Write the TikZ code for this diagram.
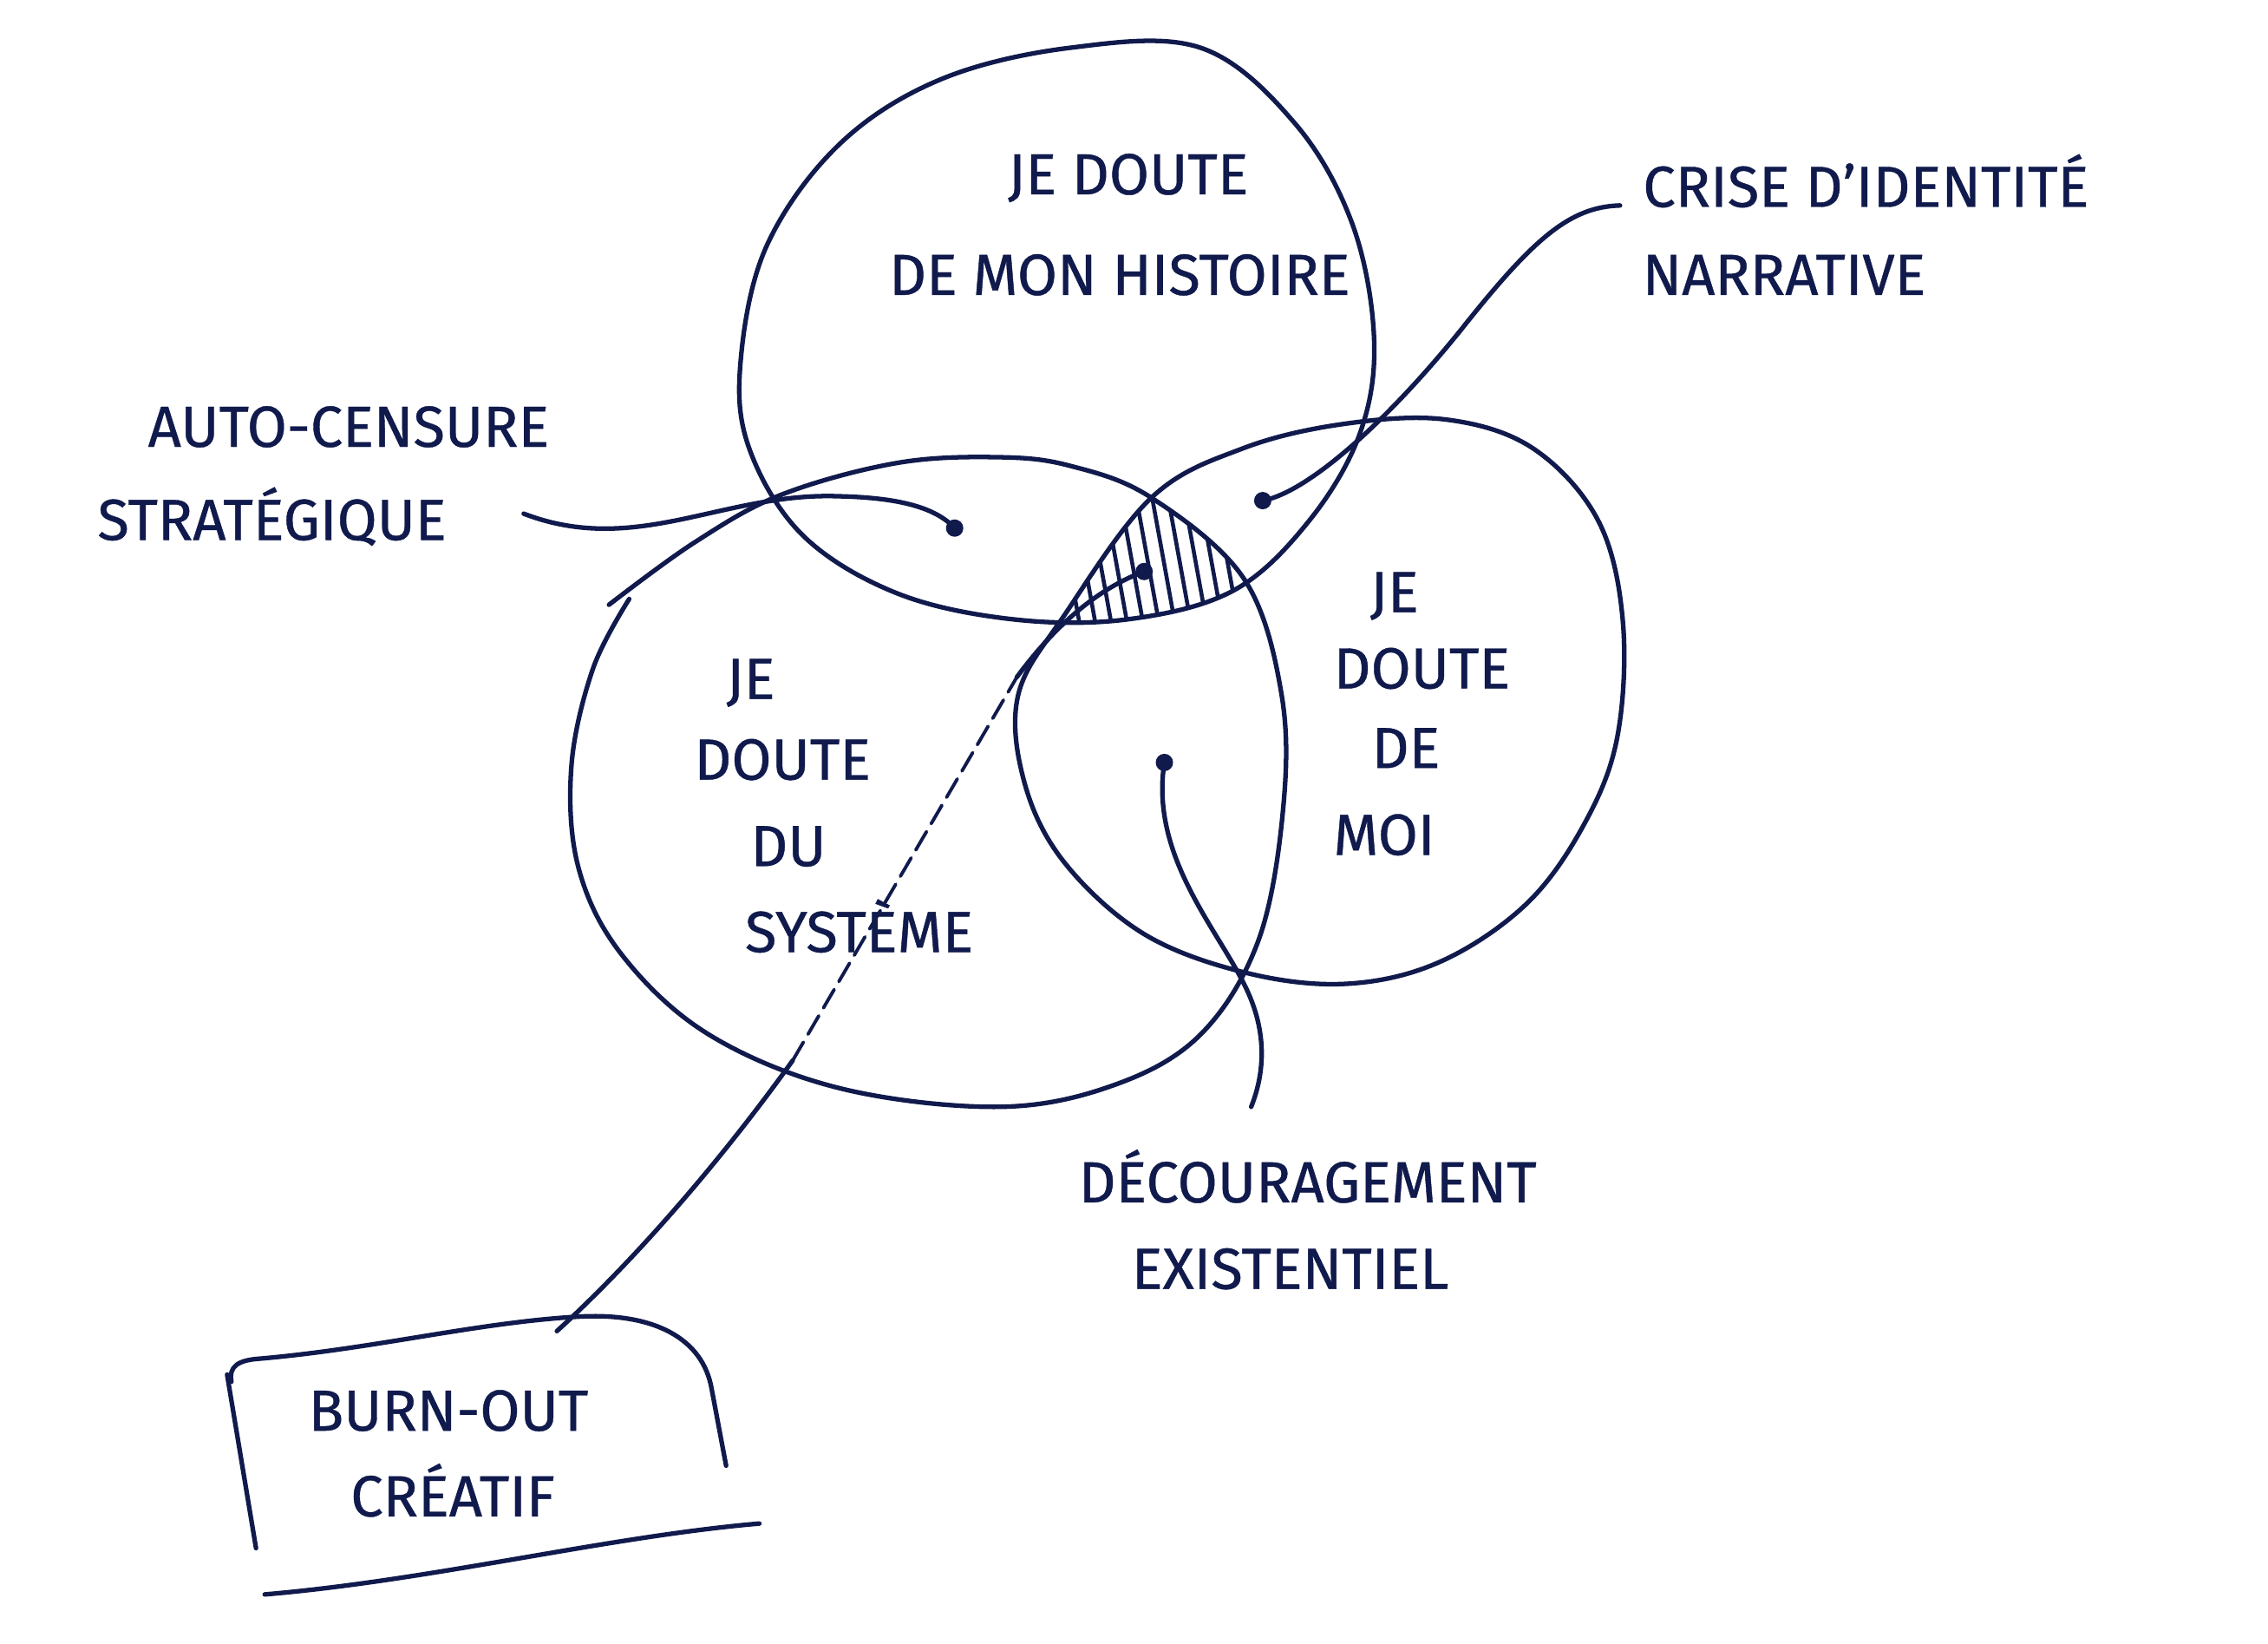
\documentclass[tikz,border=0pt]{standalone}
\usepackage{fontspec}
\setmainfont{Fira Sans}
\newfontfamily\handfont{Fira Sans}[FakeBold=0.6]
\definecolor{ink}{RGB}{16,26,76}
\begin{document}
\begin{tikzpicture}[x=0.016677cm,y=-0.016677cm,
  pen/.style={draw=ink,line width=1.5pt,line cap=round,line join=round},
  hatchpen/.style={draw=ink,line width=1.3pt,line cap=round},
  lbl/.style={text=ink,font=\handfont\fontsize{19}{22}\selectfont,inner sep=0pt,align=center},
  dotm/.style={circle,fill=ink,inner sep=0pt,minimum size=0.2cm}]
\path[use as bounding box,fill=white] (0,0) rectangle (1568,1136);

\def\toppath{plot[smooth cycle,tension=0.6] coordinates {(830,33) (895,85) (935,155) (950,235) (940,300) (905,360) (853,408) (780,428) (700,428) (620,410) (555,370) (518,310) (512,250) (530,170) (580,100) (650,55) (740,33)}}
\def\leftpath{plot[smooth cycle,tension=0.6] coordinates {(428,416) (408,462) (395,530) (400,600) (430,660) (490,715) (580,752) (690,765) (770,750) (830,715) (870,650) (887,560) (886,480) (860,400) (796,344) (740,322) (690,316) (620,320) (540,342) (480,375)}}
\def\rightpath{plot[smooth cycle,tension=0.6] coordinates {(929,293) (1000,290) (1060,310) (1105,360) (1122,430) (1118,510) (1095,570) (1055,625) (995,665) (930,680) (860,672) (790,645) (735,595) (708,540) (704,480) (736,425) (796,344) (859,310)}}

% circles
\draw[pen] \toppath;
\draw[pen] plot[smooth,tension=0.6] coordinates {(435,414) (410,462) (395,530) (400,600) (430,660) (490,715) (580,752) (690,765) (770,750) (830,715) (870,650) (887,560) (886,480) (860,400) (796,344) (740,322) (690,316) (620,320) (540,342) (480,375) (421,418)};
\draw[pen] \rightpath;

% hatching of the triple intersection
\begin{scope}
  \clip \toppath;
  \clip \leftpath;
  \clip \rightpath;
  \foreach \x in {736,747,758,769,780,791,802,813,824,835,846,857}
    \draw[hatchpen] (\x-8,330) -- (\x+12,440);
\end{scope}

% texts in circles
\node[lbl] (t1) at (780,123) {JE DOUTE};
\node[lbl] (t2) at (774,190) {DE MON HISTOIRE};
\node[lbl] (l1) at (519,472) {JE};
\node[lbl] (l2) at (541,525) {DOUTE};
\node[lbl] (l3) at (545,585) {DU};
\node[lbl] (l4) at (594,640) {SYSTÈME};
\node[lbl] (r1) at (964,412) {JE};
\node[lbl] (r2) at (983,462) {DOUTE};
\node[lbl] (r3) at (972,517) {DE};
\node[lbl] (r4) at (957,577) {MOI};

% outside labels
\node[lbl] (a1) at (241,295) {AUTO-CENSURE};
\node[lbl] (a2) at (188,357) {STRATÉGIQUE};
\node[lbl] (c1) at (1290,125) {CRISE D’IDENTITÉ};
\node[lbl,anchor=west] (c2) at (1135,190) {NARRATIVE};
\node[lbl] (d1) at (904,813) {DÉCOURAGEMENT};
\node[lbl] (d2) at (892,877) {EXISTENTIEL};
\node[lbl] (b1) at (310,975) {BURN-OUT};
\node[lbl] (b2) at (313,1030) {CRÉATIF};

% dots
\node[dotm] (dA) at (660,365) {};
\node[dotm] (dC) at (873,346) {};
\node[dotm] (dD) at (805,527) {};
\node[dotm] (dB) at (791,395) {};

% connector ends
\coordinate (eA) at (362,355);
\coordinate (eC) at (1120,142);
\coordinate (eD) at (865,765);
\coordinate (eB) at (385,920);
\coordinate (bs) at (548,733);
\coordinate (be) at (703,468);

% connectors
\draw[pen] (eA) .. controls (440,385) and (500,340) .. (580,343) .. controls (625,344) and (648,352) .. (dA.center);
\draw[pen] (dC.center) .. controls (905,340) and (960,290) .. (1010,228) .. controls (1060,165) and (1085,143) .. (eC);
\draw[pen] (dD.center) .. controls (795,590) and (840,640) .. (860,680) .. controls (878,715) and (873,745) .. (eD);
\draw[pen] (eB) .. controls (440,870) and (500,800) .. (bs);
\draw[pen,line width=1.1pt,dash pattern=on 7pt off 3pt] (bs) -- (be);
\draw[pen] (be) .. controls (720,445) and (750,410) .. (dB.center);

% burn-out box (hand drawn)
\draw[pen] (160,955) .. controls (158,944) and (165,940) .. (180,939) .. controls (260,932) and (330,914) .. (400,910) .. controls (452,907) and (486,925) .. (492,960) -- (502,1013);
\draw[pen] (157,950) -- (177,1070);
\draw[pen] (183,1102) .. controls (300,1092) and (420,1062) .. (525,1053);
\end{tikzpicture}
\end{document}
